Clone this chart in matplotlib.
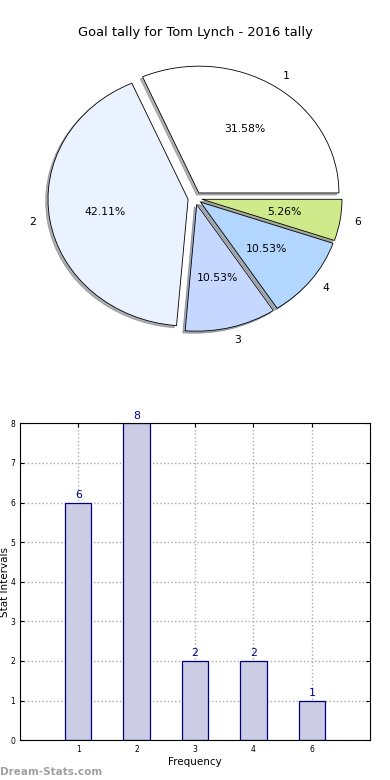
import matplotlib
matplotlib.use("Agg")
import matplotlib.pyplot as plt
import numpy as np

plt.rcParams.update({
    "font.family": "DejaVu Sans",
    "figure.dpi": 100,
    "savefig.dpi": 100,
})

# ---- data -------------------------------------------------------------------
CATEGORIES = ["1", "2", "3", "4", "6"]
COUNTS = [6, 8, 2, 2, 1]
PIE_COLORS = ["#FFFFFF", "#EBF2FF", "#C6D8FF", "#B3D6FF", "#CFEA8A"]
EXPLODE = [0.05, 0.05, 0.05, 0.05, 0.05]

TITLE = "Goal tally for Tom Lynch - 2016 tally"
BAR_FACE = "#CCCCE5"
BAR_EDGE = "#000080"

fig, (ax1, ax2) = plt.subplots(2, 1, figsize=(3.9, 7.8))
fig.subplots_adjust(left=0.051, right=0.949, top=0.949, bottom=0.051, hspace=0.21)

# ---- pie --------------------------------------------------------------------
wedges, texts, autotexts = ax1.pie(
    COUNTS, labels=CATEGORIES, colors=PIE_COLORS, explode=EXPLODE,
    autopct="%1.2f%%", shadow={"ox": -0.012, "oy": -0.012, "shade": 0.6},
    startangle=0,
    wedgeprops={"edgecolor": "black", "linewidth": 0.6},
    textprops={"fontsize": 7.8},
)
ax1.set_aspect("auto")  # the original pie is stretched to fill its axes
ax1.set_xlim(-1.25, 1.25)
ax1.set_ylim(-1.25, 1.25)
ax1.set_title(TITLE, fontsize=9.4, pad=3)

# ---- bars -------------------------------------------------------------------
x = np.arange(len(CATEGORIES))
bars = ax2.bar(x, COUNTS, 0.45, color=BAR_FACE, edgecolor=BAR_EDGE,
               linewidth=0.9, zorder=2)
for rect, v in zip(bars, COUNTS):
    ax2.annotate(str(v), xy=(rect.get_x() + rect.get_width() / 2, v),
                 xytext=(0, 2), textcoords="offset points",
                 ha="center", va="bottom", fontsize=7.8, color=BAR_EDGE)
ax2.set_xlim(-1, 5)
ax2.set_ylim(0, 8)
ax2.set_xticks(x)
ax2.set_xticklabels(CATEGORIES)
ax2.set_yticks(range(0, 9))
ax2.tick_params(labelsize=5.5, direction="in", length=3, top=True, right=True)
ax2.grid(True, linestyle=":", color="#aaaaaa", linewidth=1.0, zorder=0)
ax2.set_axisbelow(True)
ax2.set_xlabel("Frequency", fontsize=7.5, labelpad=2)
ax2.set_ylabel("Stat Intervals", fontsize=7.5, labelpad=0)

fig.text(0.0, 0.004, "Dream-Stats.com", fontsize=7.5, color="#A0A0A0",
         fontweight="bold", ha="left", va="bottom")

fig.savefig("out.png")
